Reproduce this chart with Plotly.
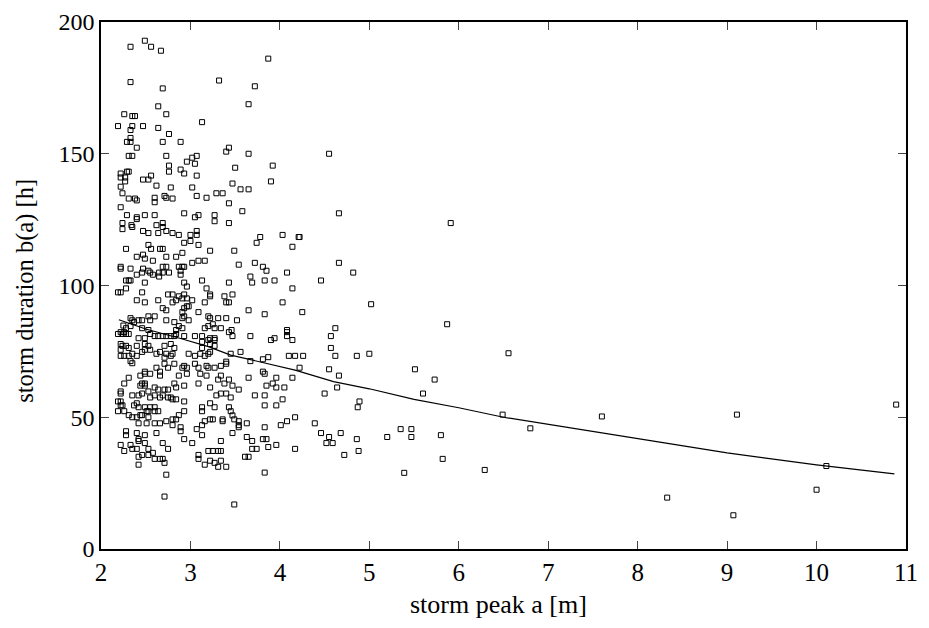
import plotly.graph_objects as go

pts = [
(2.33,190.6),(2.49,192.9),(2.56,190.6),(2.67,189.1),(3.87,186.1),(2.33,177.2),(3.32,177.8),(2.69,174.8),(3.72,175.6),(3.65,168.8),(2.64,168),(2.26,165),(2.35,164.3),(2.38,164.3),(2.73,165),(3.13,162),(2.19,160.5),(2.33,159),(2.35,160.5),(2.47,160.5),(2.64,159.8),(2.76,157.5),(2.33,156),(2.33,154.5),(2.29,154.5),(2.4,152.3),(2.69,154.5),(2.89,154.5),(3.43,152.3),(3.4,150.8),(3.65,150),(2.31,149.2),(2.35,149.2),(2.73,149.2),(3.07,149.2),(3.02,148.5),(2.96,147),(3.05,146.2),(2.76,145.5),(2.76,143.2),(2.89,144),(2.93,142.5),(3.07,141.7),(3.5,144.7),(3.92,145.5),(3.9,139.5),(2.22,142.5),(2.22,141),(2.27,141),(2.27,139.5),(2.22,137.5),(2.29,143.2),(2.31,143.2),(2.47,140.2),(2.53,140.2),(2.56,141.7),(2.62,137.9),(2.78,137.2),(3.02,137.2),(3.47,138.7),(3.56,136.5),(3.65,136.5),(2.24,135),(2.31,133),(2.38,133),(2.6,133.3),(2.71,134),(2.73,133.3),(2.8,133),(3.07,134),(3.18,133.3),(3.29,135),(3.36,135),
(4.55,150),
(2.6,131.6),(2.4,132.3),(2.22,129.7),(3.43,131.2),(3.58,128.2),(2.29,126.7),(2.4,125.9),(2.4,125.2),(2.49,126.7),(2.6,126.7),(2.93,127.4),(3.05,125.9),(3.09,126.7),(3.27,126.7),(3.27,124.4),(3.43,123.7),(2.24,123.7),(2.34,122.9),(2.35,122.2),(2.24,121.4),(2.47,120.7),(2.62,122.9),(2.69,123.7),(2.69,122.2),(2.53,119.9),(2.64,119.9),(2.73,120.7),(2.8,119.9),(2.87,119.2),(3.0,119.2),(3.07,119.2),(3.07,120.7),(3.78,118.4),(3.74,116.2),(4.03,119.2),(4.21,118.4),(2.93,116.2),(3.0,116.9),(3.09,115.4),(4.14,114.7),(2.28,113.9),(2.53,115.4),(2.56,113.9),(2.66,113.9),(2.69,113.9),(3.22,113.2),(3.49,113.2),(2.4,110.9),(2.47,111.7),(2.49,110.2),(2.58,109.4),(2.73,110.9),(2.84,110.9),(2.91,112.4),(3.02,108.6),(3.09,109.4),(3.16,109.4),(3.54,107.9),(3.72,108.6),(3.81,107.1),(3.85,105.6),(2.22,107.1),(2.22,106.4),(2.33,106.4),(2.4,104.1),(2.47,106.4),(2.53,105.6),(2.55,104.9),(2.58,104.1),(2.46,104.9),(2.65,104.9),(2.69,107.1),(2.69,104.9),(2.73,107.1),(2.76,104.9),(2.65,103.4),(2.87,107.1),(2.91,107.1),(2.93,107.1),(2.89,105.6),(2.89,104.1),(3.67,103.4),(4.08,104.9),(2.28,101.9),(2.31,101.9),(2.33,101.9),(2.49,101.1),(2.96,99.6),(2.93,101.1),(3.13,101.9),(3.43,101.1),(3.69,101.1),(3.83,101.9),(3.94,101.9),(2.19,97.4),(2.22,97.4),(2.28,98.9),(2.46,97.4),(4.14,98.9),(3.18,98.9),(3.22,96.6),(3.22,95.9),(2.75,96.6),(2.8,96.6),(2.87,95.9),(2.93,96.6),(2.96,95.1),(3.02,94.4),(3.38,95.9),(3.47,96.6),(3.4,93.6),(3.43,93.6),(2.4,94.4),(2.49,93.6),(2.64,94.4),(2.8,93.6),(2.84,94.4),(2.91,95.1),(3.16,93.6),(4.03,93.6),(2.69,91.4),(2.73,90.6),(2.96,92.1),(2.98,92.1),(2.93,91.4),(2.91,89.9),(3.65,90.6),(3.83,89.1),(4.25,89.9),(3.09,89.9),(2.33,87.6),(2.35,86.8),(2.53,88.3),(2.6,88.3),(2.55,86.8),(2.46,86.8),(2.42,86.8),(2.37,86.1),(2.73,86.8),(2.82,86.1),(2.91,87.6),(2.93,88.3),(2.98,86.8),(3.2,88.3),(3.22,87.6),(3.31,87.6),(3.4,87.6),(3.52,86.8),
(2.25,84.8),(2.22,82.3),(2.19,81.6),(2.24,81.6),(2.26,82.3),(2.28,81.6),(2.31,81.6),
(2.33,84.6),(2.28,83.8),(2.46,83.8),(2.53,83.1),(2.55,81.6),(2.87,84.6),(2.84,83.1),(2.91,83.8),(3.16,83.8),(3.2,84.6),(3.25,85.3),(3.27,83.8),(3.34,83.8),(3.46,83.1),(3.43,82.3),(4.08,83.1),(4.08,82.3),
(2.42,80),(2.49,80),(2.6,80.8),(2.64,80.8),(2.69,80.8),(2.73,80.8),(2.78,80.8),(2.82,80.8),(2.84,81.6),(2.93,80.8),(3.05,80.8),(3.13,80.8),(3.22,80),(3.27,80),(3.47,80.8),(3.67,80.8),(3.9,79.3),(3.94,80),(4.14,79.3),(4.08,80.8),
(2.22,77.8),(2.24,77.1),(2.28,77.1),(2.31,76.3),(2.22,75.6),(2.4,77.1),(2.49,77.8),(2.53,77.1),(2.55,75.6),(2.71,77.1),(2.78,77.8),(2.82,76.3),(3.13,78.6),(3.13,76.3),(3.2,79.3),(3.22,77.8),(3.27,79.3),(3.27,77.1),
(2.22,73.3),(2.26,73.3),(2.31,73.3),(2.35,74.1),(2.4,73.3),(2.46,74.8),(2.49,75.6),(2.62,74.1),(2.66,74.8),(2.73,74.1),(2.71,72.6),(2.78,73.3),(2.8,74.1),(2.98,74.1),(3.05,73.3),(3.11,74.1),(3.16,73.3),(3.2,74.1),(3.22,74.8),(3.45,74.1),(3.56,74.8),(4.1,73.3),(4.17,73.3),(4.26,73.3),(3.67,71.3),(3.81,72),(3.87,72.8),(2.33,71.3),(2.35,70.5),
(2.49,67.3),(2.62,68.8),(2.71,70.3),(2.75,68.8),(2.82,70.3),(2.91,68.8),(2.93,69.5),(2.96,68.8),(3.05,70.3),(3.09,68.8),(3.18,69.5),(3.2,68.8),(3.27,68.8),(3.34,69.5),(3.4,71.1),(3.4,70.3),
(4.66,127.4),(5.91,123.7),(4.22,118.4),(4.66,108.6),(4.82,104.9),(4.46,101.9),(5.02,92.9),(5.87,85.3),(4.62,83.8),(4.57,80.8),(4.57,76.3),(4.62,73.3),(4.86,73.3),(5.0,74.1),(4.22,68.8),(4.55,68.2),(5.51,68.2),
(2.31,65),(2.44,65.8),(2.49,66.5),(2.55,66.5),(2.66,65.8),(2.66,67.3),(2.87,65.8),(2.96,66.5),(3.11,66.5),(3.18,65.8),(3.34,65.8),(3.31,64.3),(3.38,62.8),(3.47,62),(3.54,60.5),(3.43,64.3),(3.65,65),(3.81,67.3),(3.83,66.5),(3.96,65),(4.14,65),(2.26,62.8),(2.44,62),(2.46,62.8),(2.49,62.8),(2.49,62),(2.6,61.3),(2.64,60.5),(2.71,60.5),(2.75,60.5),(2.82,62.8),(2.84,61.3),(2.93,62),(3.09,62.8),(3.22,61.3),(3.85,62),(3.92,62.8),(3.96,61.3),(4.05,61.3),
(2.22,59.8),(2.22,59),(2.35,58.3),(2.42,58.3),(2.46,59),(2.53,59.8),(2.55,57.5),(2.6,58.3),
(2.66,57.5),(2.69,58.3),(2.75,57.5),(2.78,57.5),(2.8,56.8),(2.84,56.8),(2.93,56),(2.19,56),(2.22,56),(2.22,54.5),(2.24,54.5),(2.37,54.5),(2.4,55.3),(2.42,53.8),(2.49,53.8),(2.55,53.8),(2.53,52.3),(2.6,53.8),
(3.29,58.3),(3.34,59),(3.4,59),(3.45,57.5),(3.43,53.8),(3.22,55.3),(3.27,53.8),(3.13,53.8),(3.13,52.3),(3.45,52.3),(3.72,58.3),(3.83,58.3),(3.83,54.5),(3.96,54.5),(4.03,56.8),
(2.19,52.3),(2.26,52.3),(2.31,50.8),(2.35,50),(2.4,50),(2.44,50.8),(2.46,50.8),(2.51,52.3),(2.53,50),(2.6,52.3),(2.64,52.3),
(2.87,50.8),(2.93,52.3),(2.8,49.2),(2.84,49.2),(2.73,48.5),(2.66,47.7),(2.6,47.7),(2.51,47.7),(2.42,47.7),
(3.16,48.5),(3.22,49.2),(3.25,49.2),(3.36,49.2),(3.36,48.5),(3.47,50.7),(3.49,49.2),(3.54,48.5),(3.63,47.7),(3.54,47),
(3.83,46.2),(4.01,47),(4.08,48.5),(4.17,50),(2.28,44.7),(2.28,43.2),(2.4,44),(2.49,43.2),(2.62,44),(2.89,46.2),(2.89,44.7),(2.8,47),(3.07,45.5),(3.13,47),(3.13,43.2),(3.47,44),(3.54,46.2),
(2.93,41.7),(3.02,40.2),(3.34,41),(3.63,42.5),(3.69,41),(3.81,41.7),(3.85,41.7),(3.87,38.7),(3.96,39.5),(4.17,38),
(2.22,39.5),(2.26,37.2),(2.33,39.5),(2.35,38),(2.4,38),(2.42,41),(2.42,41.7),(2.49,40.2),(2.53,38),(2.58,36.5),(2.69,40.2),(2.75,38),
(2.42,35),(2.46,35.7),(2.53,35.7),(2.6,34.2),(2.66,34.2),(2.69,34.2),(2.71,32.7),(2.42,32),
(3.09,35.7),(3.09,34.2),(3.2,37.2),(3.25,37.2),(3.31,37.2),(3.34,37.2),(3.16,32),(3.22,33.5),(3.27,32.7),(3.34,33.5),(3.31,31.2),(3.4,31.2),(3.61,35),(3.65,35),(3.69,38),(3.74,38),(2.73,28.2),(3.83,29),(2.71,19.9),(3.49,16.9),
(4.66,65.8),(5.73,64.3),(4.64,61.3),(4.5,59),(5.6,59),(4.89,56),(4.87,53.8),(4.39,47.7),(4.46,44),(4.55,42.5),(4.68,44),(4.52,40.2),(4.59,40.2),(4.86,41.7),(5.2,42.5),(5.35,45.5),(5.47,45.5),(5.47,42.5),(5.8,43.2),(4.72,35.7),(4.88,37.2),(5.82,34.2),(5.39,28.9),
(6.556,74.3),(6.49,51),(6.8,45.8),(6.29,30),(7.6,50.3),(8.33,19.5),(9.11,51),(9.07,12.8),(10.0,22.5),(10.11,31.5),(10.89,54.8),
]

peak_a = [p[0] for p in pts]
duration_b = [p[1] for p in pts]

fit_a = [2.2, 2.5, 2.9, 3.2, 3.45, 3.8, 4.17, 4.6, 5.0, 5.5, 6.0, 6.5, 7.0, 8.0, 9.0, 10.0, 10.87]
fit_b = [87.0, 83.5, 79.8, 76.8, 73.6, 70.7, 67.9, 63.5, 60.8, 56.8, 53.6, 50.0, 47.3, 41.9, 36.5, 31.9, 28.5]

x_ticks = [2, 3, 4, 5, 6, 7, 8, 9, 10, 11]
y_ticks = [0, 50, 100, 150, 200]

fig = go.Figure()
fig.add_trace(go.Scatter(
    x=peak_a, y=duration_b, mode="markers",
    marker=dict(symbol="square-open", size=5, color="black", line=dict(width=1, color="black")),
    showlegend=False))
fig.add_trace(go.Scatter(
    x=fit_a, y=fit_b, mode="lines",
    line=dict(color="black", width=1.2), showlegend=False))

font = "Liberation Serif, Times New Roman, serif"
fig.update_layout(
    width=929, height=628,
    margin=dict(l=93, r=31, t=14, b=87),
    paper_bgcolor="white", plot_bgcolor="white",
    font=dict(family=font, color="black", size=25),
    annotations=[
        dict(text="storm peak a [m]", xref="paper", yref="paper", x=0.494, y=-0.074,
             xanchor="center", yanchor="top", showarrow=False, font=dict(size=26)),
        dict(text="storm duration b(a) [h]", xref="paper", yref="paper", x=-0.0944, y=0.49,
             xanchor="center", yanchor="middle", textangle=-90, showarrow=False, font=dict(size=24.5)),
    ],
)
fig.update_xaxes(
    range=[2, 11], tickvals=x_ticks, ticks="inside", ticklen=8, tickwidth=1,
    showline=True, linecolor="black", linewidth=1.5, mirror="ticks",
    showgrid=False, zeroline=False, tickfont=dict(size=25), automargin=False,
    ticklabeloverflow="allow",
)
fig.update_yaxes(
    range=[0, 200], tickvals=y_ticks, ticks="inside", ticklen=8, tickwidth=1,
    showline=True, linecolor="black", linewidth=1.5, mirror="ticks",
    showgrid=False, zeroline=False, tickfont=dict(size=24), automargin=False,
    ticklabeloverflow="allow",
)
fig.write_html("out.html")
